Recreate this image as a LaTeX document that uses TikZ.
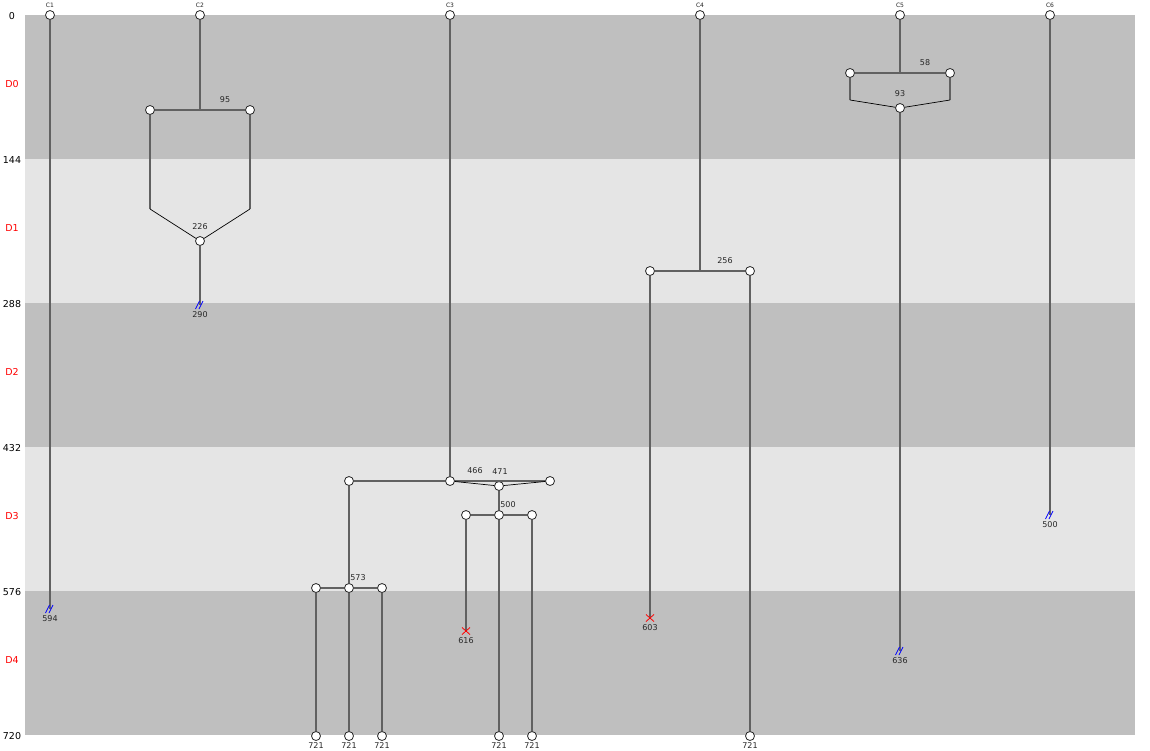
\documentclass[tikz,border=0pt]{standalone}
\usepackage{fontspec}
\setmainfont{DejaVu Sans}
\begin{document}
\begin{tikzpicture}[x=1pt,y=-1pt,
  pt/.style={circle,draw=black!85,fill=white,line width=0.8pt,inner sep=0pt,minimum size=9pt},
  edge/.style={draw=black!62,line width=1.5pt},
  thinedge/.style={draw=black,line width=0.7pt},
  num/.style={font=\fontsize{8}{9}\selectfont,text=black!85,inner sep=0pt},
  clbl/.style={font=\fontsize{6}{7}\selectfont,text=black!85,inner sep=0pt},
  axl/.style={font=\fontsize{9.5}{11}\selectfont,text=black,inner sep=0pt},
  dlbl/.style={font=\fontsize{9.5}{11}\selectfont,text=red,inner sep=0pt},
  brk/.pic={\draw[blue,line width=0.8pt] (-4.5,4)--(-0.5,-4) (-1,4)--(3,-4);},
  cross/.pic={\draw[red,line width=0.8pt] (-4,-3.5)--(4,3.5) (-4,3.5)--(4,-3.5);}
]
\useasboundingbox (0,0) rectangle (1150,750);
\fill[white] (0,0) rectangle (1150,750);
% bands
\fill[black!25] (25,15) rectangle (1135,159);
\fill[black!10] (25,159) rectangle (1135,303);
\fill[black!25] (25,303) rectangle (1135,447);
\fill[black!10] (25,447) rectangle (1135,591);
\fill[black!25] (25,591) rectangle (1135,735);
% axis labels
\node[axl] (t0) at (12,16) {0};
\node[dlbl] (d0) at (12,84) {D0};
\node[axl] (t144) at (12,160) {144};
\node[dlbl] (d1) at (12,228) {D1};
\node[axl] (t288) at (12,304) {288};
\node[dlbl] (d2) at (12,372) {D2};
\node[axl] (t432) at (12,448) {432};
\node[dlbl] (d3) at (12,516) {D3};
\node[axl] (t576) at (12,592) {576};
\node[dlbl] (d4) at (12,660) {D4};
\node[axl] (t720) at (12,736) {720};

% coordinates
\coordinate (e594) at (50,609);
\coordinate (m95) at (200,110);
\coordinate (k1) at (150,209);
\coordinate (k2) at (250,209);
\coordinate (e290) at (200,305);
\coordinate (x616) at (466,631);
\coordinate (m256) at (700,271);
\coordinate (x603) at (650,618);
\coordinate (m58) at (900,73);
\coordinate (k3) at (850,100);
\coordinate (k4) at (950,100);
\coordinate (e636) at (900,651);
\coordinate (e500) at (1050,515);

% nodes
\node[pt] (c1) at (50,15) {};
\node[pt] (c2) at (200,15) {};
\node[pt] (c3) at (450,15) {};
\node[pt] (c4) at (700,15) {};
\node[pt] (c5) at (900,15) {};
\node[pt] (c6) at (1050,15) {};
\node[pt] (l95) at (150,110) {};
\node[pt] (r95) at (250,110) {};
\node[pt] (j226) at (200,241) {};
\node[pt] (l466) at (349,481) {};
\node[pt] (j466) at (450,481) {};
\node[pt] (r466) at (550,481) {};
\node[pt] (j471) at (499,486) {};
\node[pt] (l500) at (466,515) {};
\node[pt] (j500) at (499,515) {};
\node[pt] (r500) at (532,515) {};
\node[pt] (a573) at (316,588) {};
\node[pt] (j573) at (349,588) {};
\node[pt] (c573) at (382,588) {};
\node[pt] (b1) at (316,736) {};
\node[pt] (b2) at (349,736) {};
\node[pt] (b3) at (382,736) {};
\node[pt] (b4) at (499,736) {};
\node[pt] (b5) at (532,736) {};
\node[pt] (l256) at (650,271) {};
\node[pt] (r256) at (750,271) {};
\node[pt] (b6) at (750,736) {};
\node[pt] (l58) at (850,73) {};
\node[pt] (r58) at (950,73) {};
\node[pt] (j93) at (900,108) {};

% edges
\draw[edge] (c1) -- (e594);
\draw[edge] (c2) -- (m95);
\draw[edge] (l95) -- (r95);
\draw[edge] (l95) -- (k1);
\draw[edge] (r95) -- (k2);
\draw[thinedge] (k1) -- (j226) -- (k2);
\draw[edge] (j226) -- (e290);
\draw[edge] (c3) -- (j466);
\draw[edge] (l466) -- (j466);
\draw[edge] (j466) -- (r466);
\draw[thinedge] (j466) -- (j471) -- (r466);
\draw[edge] (j471) -- (j500);
\draw[edge] (l500) -- (j500);
\draw[edge] (j500) -- (r500);
\draw[edge] (l500) -- (x616);
\draw[edge] (j500) -- (b4);
\draw[edge] (r500) -- (b5);
\draw[edge] (l466) -- (j573);
\draw[edge] (a573) -- (j573);
\draw[edge] (j573) -- (c573);
\draw[edge] (a573) -- (b1);
\draw[edge] (j573) -- (b2);
\draw[edge] (c573) -- (b3);
\draw[edge] (c4) -- (m256);
\draw[edge] (l256) -- (r256);
\draw[edge] (l256) -- (x603);
\draw[edge] (r256) -- (b6);
\draw[edge] (c5) -- (m58);
\draw[edge] (l58) -- (r58);
\draw[edge] (l58) -- (k3);
\draw[edge] (r58) -- (k4);
\draw[thinedge] (k3) -- (j93) -- (k4);
\draw[edge] (j93) -- (e636);
\draw[edge] (c6) -- (e500);

% markers
\pic at (e594) {brk};
\pic at (e290) {brk};
\pic at (e636) {brk};
\pic at (e500) {brk};
\pic at (x616) {cross};
\pic at (x603) {cross};

% labels
\node[clbl] (lc1) at (50,5) {C1};
\node[clbl] (lc2) at (200,5) {C2};
\node[clbl] (lc3) at (450,5) {C3};
\node[clbl] (lc4) at (700,5) {C4};
\node[clbl] (lc5) at (900,5) {C5};
\node[clbl] (lc6) at (1050,5) {C6};
\node[num] (n95) at (225,99.5) {95};
\node[num] (n226) at (200,226.5) {226};
\node[num] (n290) at (200,314.5) {290};
\node[num] (n594) at (50,618.5) {594};
\node[num] (n466) at (475,470.5) {466};
\node[num] (n471) at (500,471.5) {471};
\node[num] (n500) at (508,504.5) {500};
\node[num] (n573) at (358,577.5) {573};
\node[num] (n616) at (466,640.5) {616};
\node[num] (n256) at (725,260.5) {256};
\node[num] (n603) at (650,627.5) {603};
\node[num] (n58) at (925,62.5) {58};
\node[num] (n93) at (900,93.5) {93};
\node[num] (n636) at (900,660.5) {636};
\node[num] (n500b) at (1050,524.5) {500};
\node[num] (w1) at (316,745.5) {721};
\node[num] (w2) at (349,745.5) {721};
\node[num] (w3) at (382,745.5) {721};
\node[num] (w4) at (499,745.5) {721};
\node[num] (w5) at (532,745.5) {721};
\node[num] (w6) at (750,745.5) {721};
\end{tikzpicture}
\end{document}
